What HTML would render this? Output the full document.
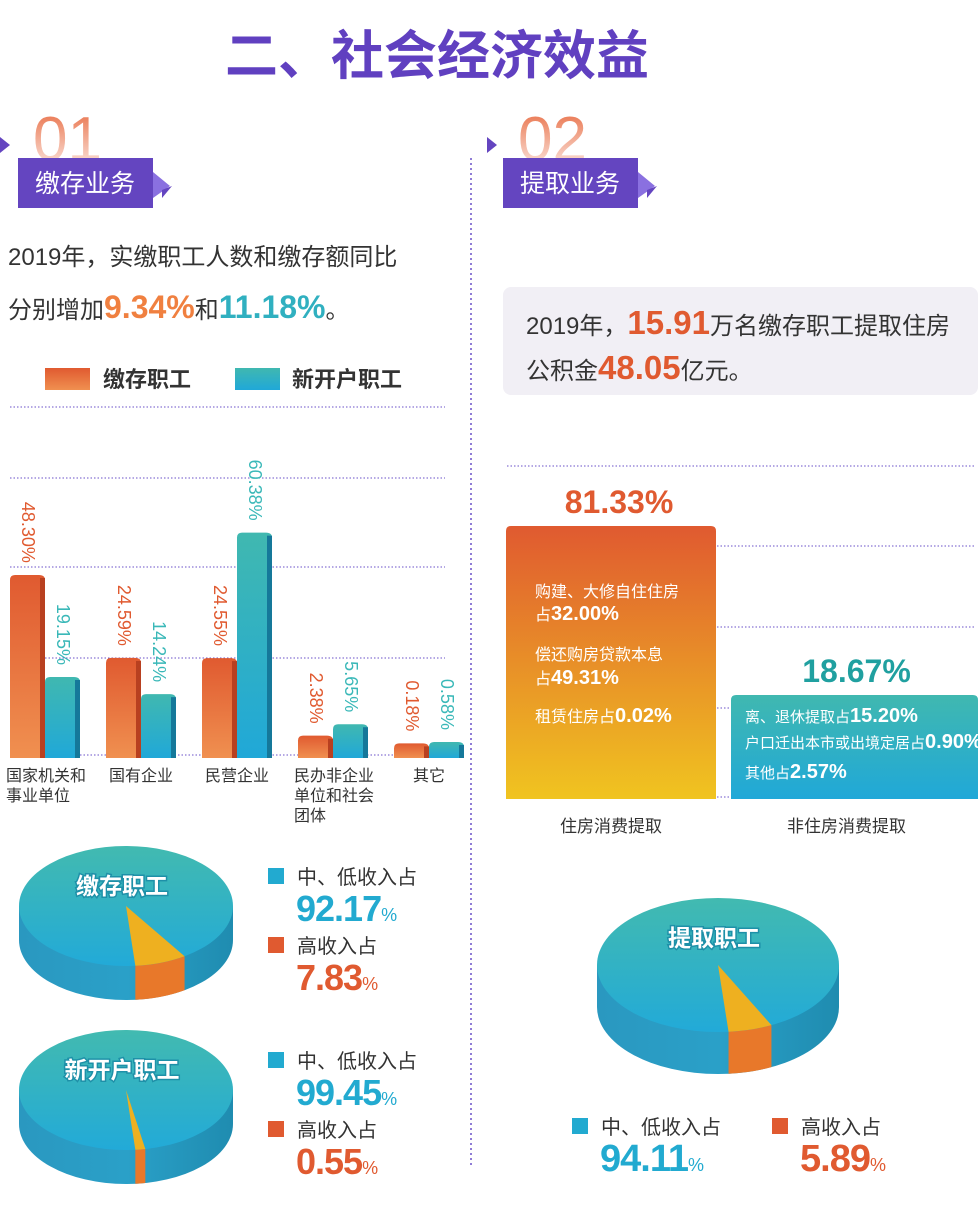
<!DOCTYPE html>
<html><head><meta charset="utf-8">
<style>
html,body{margin:0;padding:0;background:#fff;}
body{width:980px;height:1223px;position:relative;overflow:hidden;font-family:"Liberation Sans","Noto Sans CJK SC",sans-serif;}
svg{position:absolute;left:0;top:0;}
</style></head>
<body>
<svg id="chart" width="980" height="1223" viewBox="0 0 980 1223" xmlns="http://www.w3.org/2000/svg" font-family="Liberation Sans, Noto Sans CJK SC, sans-serif">
<defs>
<linearGradient id="gOr" x1="0" y1="0" x2="0" y2="1"><stop offset="0" stop-color="#e05a30"/><stop offset="1" stop-color="#f09050"/></linearGradient>
<linearGradient id="gTe" x1="0" y1="0" x2="0" y2="1"><stop offset="0" stop-color="#40b8b0"/><stop offset="1" stop-color="#20a8d8"/></linearGradient>
<linearGradient id="gBig" x1="0" y1="0" x2="0" y2="1"><stop offset="0" stop-color="#e05a30"/><stop offset="1" stop-color="#f0c420"/></linearGradient>
<linearGradient id="gNum" x1="0" y1="0" x2="0" y2="1"><stop offset="0" stop-color="#e86a40"/><stop offset="1" stop-color="#e86a40" stop-opacity="0.1"/></linearGradient>
<linearGradient id="gPie" x1="0" y1="0" x2="0" y2="1"><stop offset="0" stop-color="#42bab0"/><stop offset="1" stop-color="#22aad8"/></linearGradient>
<linearGradient id="gSide" x1="0" y1="0" x2="1" y2="0"><stop offset="0" stop-color="#2a98c0"/><stop offset="0.5" stop-color="#2aa0c8"/><stop offset="1" stop-color="#1f8cb0"/></linearGradient>
</defs>

<text x="437" y="74" text-anchor="middle" font-size="53" font-weight="bold" fill="#6040c0">二、社会经济效益</text>

<line x1="471" y1="158" x2="471" y2="1165" stroke="#6a50c8" stroke-width="1.5" stroke-dasharray="2,3"/>

<g>
<polygon points="0,137 10,145 0,153" fill="#6445c0"/>
<text x="33" y="160" font-size="62" fill="url(#gNum)" font-weight="300">01</text>
<rect x="18" y="158" width="135" height="50" fill="#6445c0"/>
<text x="85" y="192" text-anchor="middle" font-size="25" fill="#fff">缴存业务</text>
<polygon points="153,172 170,186 153,198" fill="#8a70e0"/>
<polygon points="162,190 172,186 162,198" fill="#6445c0"/>
</g>
<text x="8" y="265" font-size="24" fill="#333">2019年，实缴职工人数和缴存额同比</text>
<text x="8" y="318" font-size="24" fill="#333">分别增加<tspan font-size="32" font-weight="bold" fill="#f08040">9.34%</tspan>和<tspan font-size="32" font-weight="bold" fill="#30b0c0">11.18%</tspan>。</text>

<g>
<rect x="45" y="368" width="45" height="22" fill="url(#gOr)"/>
<text x="103" y="387" font-size="22" font-weight="bold" fill="#333">缴存职工</text>
<rect x="235" y="368" width="45" height="22" fill="url(#gTe)"/>
<text x="292" y="387" font-size="22" font-weight="bold" fill="#333">新开户职工</text>
</g>
<g id="bars"></g>

<g>
<polygon points="487,137 497,145 487,153" fill="#6445c0"/>
<text x="518" y="160" font-size="62" fill="url(#gNum)" font-weight="300">02</text>
<rect x="503" y="158" width="135" height="50" fill="#6445c0"/>
<text x="570" y="192" text-anchor="middle" font-size="25" fill="#fff">提取业务</text>
<polygon points="638,172 655,186 638,198" fill="#8a70e0"/>
<polygon points="647,190 657,186 647,198" fill="#6445c0"/>
</g>
<rect x="503" y="287" width="475" height="108" rx="8" fill="#f1eff5"/>
<text x="526" y="334" font-size="24" fill="#333">2019年，<tspan font-size="33" font-weight="bold" fill="#e05a30">15.91</tspan>万名缴存职工提取住房</text>
<text x="526" y="379" font-size="24" fill="#333">公积金<tspan font-size="33" font-weight="bold" fill="#e05a30">48.05</tspan>亿元。</text>
<g id="wchart"></g>

<g id="pies"></g>
</svg>
<script>
const NS='http://www.w3.org/2000/svg';
const categories=[['国家机关和','事业单位'],['国有企业'],['民营企业'],['民办非企业','单位和社会','团体'],['其它']];
const depositVals=[48.30,24.59,24.55,2.38,0.18];
const newVals=[19.15,14.24,60.38,5.65,0.58];
const depositLabels=['48.30%','24.59%','24.55%','2.38%','0.18%'];
const newLabels=['19.15%','14.24%','60.38%','5.65%','0.58%'];
const wCats=['住房消费提取','非住房消费提取'];
const wVals=[81.33,18.67];
const wLabels=['81.33%','18.67%'];
const pieTitles=['缴存职工','新开户职工','提取职工'];
const pieLow=[92.17,99.45,94.11];
const pieHigh=[7.83,0.55,5.89];

function el(tag,attrs,parent,txt){const e=document.createElementNS(NS,tag);for(const k in attrs)e.setAttribute(k,attrs[k]);if(txt!==undefined)e.textContent=txt;parent.appendChild(e);return e;}

const bars=document.getElementById('bars');
const base=758;
const yH=v=>v*3.5+14;
const gx=i=>10+i*96;
[407,478,567,658,755].forEach(y=>{const l=el('line',{x1:10,x2:445,y1:y,y2:y,stroke:'#6a50c8','stroke-width':1,'stroke-dasharray':'1.5,2'},bars);

});
function bar(x,v,fill,shade,label,color){
  const h=yH(v);
  const g=el('g',{},bars);
  
  
  el('path',{d:`M${x},${base} V${base-h+5} Q${x},${base-h} ${x+5},${base-h} H${x+29} Q${x+35},${base-h} ${x+35},${base-h+5} V${base} Z`,fill:fill},g);
  el('rect',{x:x+30,y:base-h+3,width:5,height:h-3,fill:shade},g);
  const tx=x+12, ty=base-h-12;
  const t=el('text',{x:tx,y:ty,transform:`rotate(90 ${tx} ${ty})`,'text-anchor':'end','font-size':18,fill:color},g,label);
  
  
}
categories.forEach((c,i)=>{
  bar(gx(i),depositVals[i],'url(#gOr)','#b84020',depositLabels[i],'#e05a30');
  bar(gx(i)+35,newVals[i],'url(#gTe)','#15789a',newLabels[i],'#3ab8b8');
  const ct=el('text',{'font-size':16,fill:'#333'},bars);
  
  
  const cx=c.length>1?gx(i)-4:gx(i)+35;
  c.forEach((line,j)=>{el('tspan',{x:cx,y:781+j*20,'text-anchor':c.length>1?'start':'middle'},ct,line);});
});

const w=document.getElementById('wchart');
[466,546,627,708,797].forEach(y=>{const l=el('line',{x1:507,x2:975,y1:y,y2:y,stroke:'#6a50c8','stroke-width':1,'stroke-dasharray':'1.5,2'},w);

});
const wBase=799, wScale=273/81.33;
const wX=[506,731], wW=[210,247];
const wFill=['url(#gBig)','url(#gTe)'], wCol=['#e05a30','#20a0a0'];
wVals.forEach((v,i)=>{
  const h=Math.max(v*wScale,104);
  const r=el('path',{d:`M${wX[i]},${wBase} V${wBase-h+5} Q${wX[i]},${wBase-h} ${wX[i]+5},${wBase-h} H${wX[i]+wW[i]-5} Q${wX[i]+wW[i]},${wBase-h} ${wX[i]+wW[i]},${wBase-h+5} V${wBase} Z`,fill:wFill[i]},w);
  
  
  const t=el('text',{x:wX[i]+wW[i]/2+(i?2:8),y:wBase-h-13,'text-anchor':'middle','font-size':32,'font-weight':'bold',fill:wCol[i]},w,wLabels[i]);
  
  
  const c=el('text',{x:wX[i]+wW[i]/2+(i?-8:0),y:832,'text-anchor':'middle','font-size':17,fill:'#333'},w,wCats[i]);
  
  
});
const inner=[[535,597,'购建、大修自住住房','',16],[535,620,'占','32.00%',16],[535,660,'偿还购房贷款本息','',16],[535,684,'占','49.31%',16],[535,722,'租赁住房占','0.02%',16],
[745,722,'离、退休提取占','15.20%',15],[745,748,'户口迁出本市或出境定居占','0.90%',15],[745,778,'其他占','2.57%',15]];
inner.forEach(a=>{const t=el('text',{x:a[0],y:a[1],'font-size':a[4],fill:'#fff'},w,a[2]);


if(a[3])el('tspan',{'font-size':20,'font-weight':'bold'},t,a[3]);});

const pies=document.getElementById('pies');
const pieGeo=[[126,906,107,60,34],[126,1090,107,60,34],[718,965,121,67,42]];
function P(cx,cy,rx,ry,t){return [cx+rx*Math.cos(t),cy+ry*Math.sin(t)];}
pieTitles.forEach((name,i)=>{
  const [cx,cy,rx,ry,d]=pieGeo[i];
  const g=el('g',{},pies);
  
  
  el('path',{d:`M${cx-rx},${cy} V${cy+d} A${rx} ${ry} 0 0 0 ${cx+rx} ${cy+d} V${cy} Z`,fill:'url(#gSide)'},g);
  el('ellipse',{cx:cx,cy:cy,rx:rx,ry:ry,fill:'url(#gPie)'},g);
  const a1=85*Math.PI/180, a2=a1-Math.max(pieHigh[i],1.5)/100*2*Math.PI;
  const p1=P(cx,cy,rx,ry,a1),p2=P(cx,cy,rx,ry,a2);
  el('path',{d:`M${p1[0]},${p1[1]} V${p1[1]+d} A${rx} ${ry} 0 0 0 ${p2[0]} ${p2[1]+d} V${p2[1]} A${rx} ${ry} 0 0 1 ${p1[0]} ${p1[1]} Z`,fill:'#e8782a'},g);
  const wdg=el('path',{d:`M${cx},${cy} L${p1[0]},${p1[1]} A${rx} ${ry} 0 0 0 ${p2[0]} ${p2[1]} Z`,fill:'#eeb020'},g);
  
  
  const t=el('text',{x:cx-4,y:cy-ry+48,'text-anchor':'middle','font-size':23,'font-weight':'bold',fill:'#fff',stroke:'#1e90a8','stroke-width':3,'paint-order':'stroke'},g,name);
  
  
});
function legend(x,y,label,val,color,size){
  const g=el('g',{},pies);
  
  
  el('rect',{x:x,y:y-16,width:16,height:16,fill:color},g);
  el('text',{x:x+29,y:y,'font-size':20,fill:'#333'},g,label);
  const t=el('text',{x:x+28,y:y+37,'font-size':size,'font-weight':'bold',fill:color,'letter-spacing':-1},g,val.toFixed(2));
  el('tspan',{'font-size':18,'font-weight':'normal'},t,'%');
}
legend(268,884,'中、低收入占',pieLow[0],'#22aad0',36);
legend(268,953,'高收入占',pieHigh[0],'#e05a30',36);
legend(268,1068,'中、低收入占',pieLow[1],'#22aad0',36);
legend(268,1137,'高收入占',pieHigh[1],'#e05a30',36);
legend(572,1134,'中、低收入占',pieLow[2],'#22aad0',38);
legend(772,1134,'高收入占',pieHigh[2],'#e05a30',38);
</script>
</body></html>
